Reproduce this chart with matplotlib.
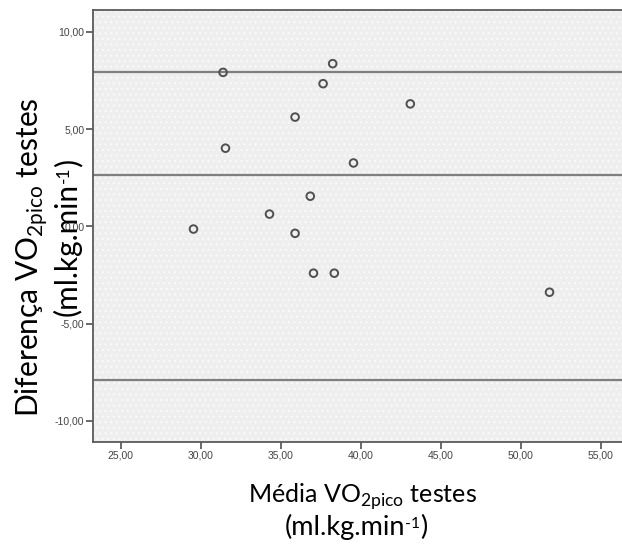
import matplotlib
matplotlib.use("Agg")
import matplotlib.pyplot as plt
import matplotlib.transforms as mtransforms
from matplotlib.ticker import FuncFormatter

# Data
media = [31.4, 38.25, 37.65, 43.1, 35.9, 31.55, 39.55, 36.85, 34.3, 29.55, 35.9, 37.05, 38.35, 51.8]
diferenca = [7.92, 8.37, 7.34, 6.30, 5.62, 4.02, 3.26, 1.55, 0.63, -0.14, -0.36, -2.41, -2.41, -3.39]
ref_lines = [7.95, 2.63, -7.9]
x_ticks = [25, 30, 35, 40, 45, 50, 55]
y_ticks = [-10, -5, 0, 5, 10]

plt.rcParams['hatch.linewidth'] = 0.8
plt.rcParams['mathtext.fontset'] = 'custom'
plt.rcParams['mathtext.rm'] = 'Lato'
fig = plt.figure(figsize=(6.22, 5.46), dpi=100)
W, H = 622, 546
ax = fig.add_axes([93.3 / W, 1 - 441.7 / H, (622 - 93.3) / W, (441.7 - 10) / H])
ax.set_facecolor('#eeeeee')
ax.patch.set_edgecolor('#fafafa')
ax.patch.set_hatch('...')
ax.patch.set_linewidth(0)

for v in ref_lines:
    ax.axhline(v, color='#7f7f7f', lw=1.6, zorder=2)

ax.scatter(media, diferenca, s=30, facecolors='none', edgecolors='#505050',
           linewidths=1.4, zorder=3)

ax.set_xlim(23.29, 56.33)
ax.set_ylim(-11.08, 11.13)
ax.set_xticks(x_ticks)
ax.set_yticks(y_ticks)
fmt = FuncFormatter(lambda v, p: f"{v:.2f}".replace('.', ','))
ax.xaxis.set_major_formatter(fmt)
ax.yaxis.set_major_formatter(fmt)
ax.tick_params(axis='both', length=5, width=1.2, color='#505050', pad=1.5,
               labelsize=7.5, labelcolor='#444444')
for lab in ax.get_xticklabels() + ax.get_yticklabels():
    lab.set_fontfamily('Liberation Sans')

for s in ['left', 'bottom', 'top']:
    ax.spines[s].set_color('#5a5a5a')
    ax.spines[s].set_linewidth(1.3)
ax.spines['right'].set_visible(False)

line1_x = r'Média VO$_{\mathregular{2pico}}$ testes'
line1_y = r'Diferença VO$_{\mathregular{2pico}}$ testes'
unit_base, unit_sup, unit_close = '(ml.kg.min', '-1', ')'

fig.text(362 / W, 1 - 503 / H, line1_x, ha='center', va='baseline',
         family='Lato', fontsize=18, color='black')
fig.text(39 / W, 1 - 257 / H, line1_y, ha='center', va='baseline', rotation=90,
         rotation_mode='anchor', family='Lato', fontsize=21.5, color='black')

renderer = fig.canvas.get_renderer()
ident = mtransforms.IdentityTransform()


def unit_label(cx, cy, size, vertical):
    """Draw '(ml.kg.min' + superscript '-1' + ')' centred at cx, baseline/centre cy (pixels from top-left)."""
    sup_size = size * 0.58
    parts = [(unit_base, size, 0.0), (unit_sup, sup_size, size * 0.36), (unit_close, size, 0.0)]
    widths = []
    for txt, sz, _ in parts:
        t = fig.text(0, 0, txt, family='Lato', fontsize=sz)
        widths.append(t.get_window_extent(renderer).width)
        t.remove()
    total = sum(widths)
    pos = -total / 2
    for (txt, sz, rise), w in zip(parts, widths):
        if not vertical:
            x = cx + pos
            y = (H - cy) + rise
            fig.text(x, y, txt, family='Lato', fontsize=sz, color='black',
                     ha='left', va='baseline', transform=ident)
        else:
            x = cx - rise
            y = (H - cy) + pos
            fig.text(x, y, txt, family='Lato', fontsize=sz, color='black',
                     ha='left', va='baseline', rotation=90, rotation_mode='anchor',
                     transform=ident)
        pos += w


unit_label(356, 535, 19.5, vertical=False)
unit_label(77, 237, 21.5, vertical=True)

fig.savefig('out.png', dpi=100)
